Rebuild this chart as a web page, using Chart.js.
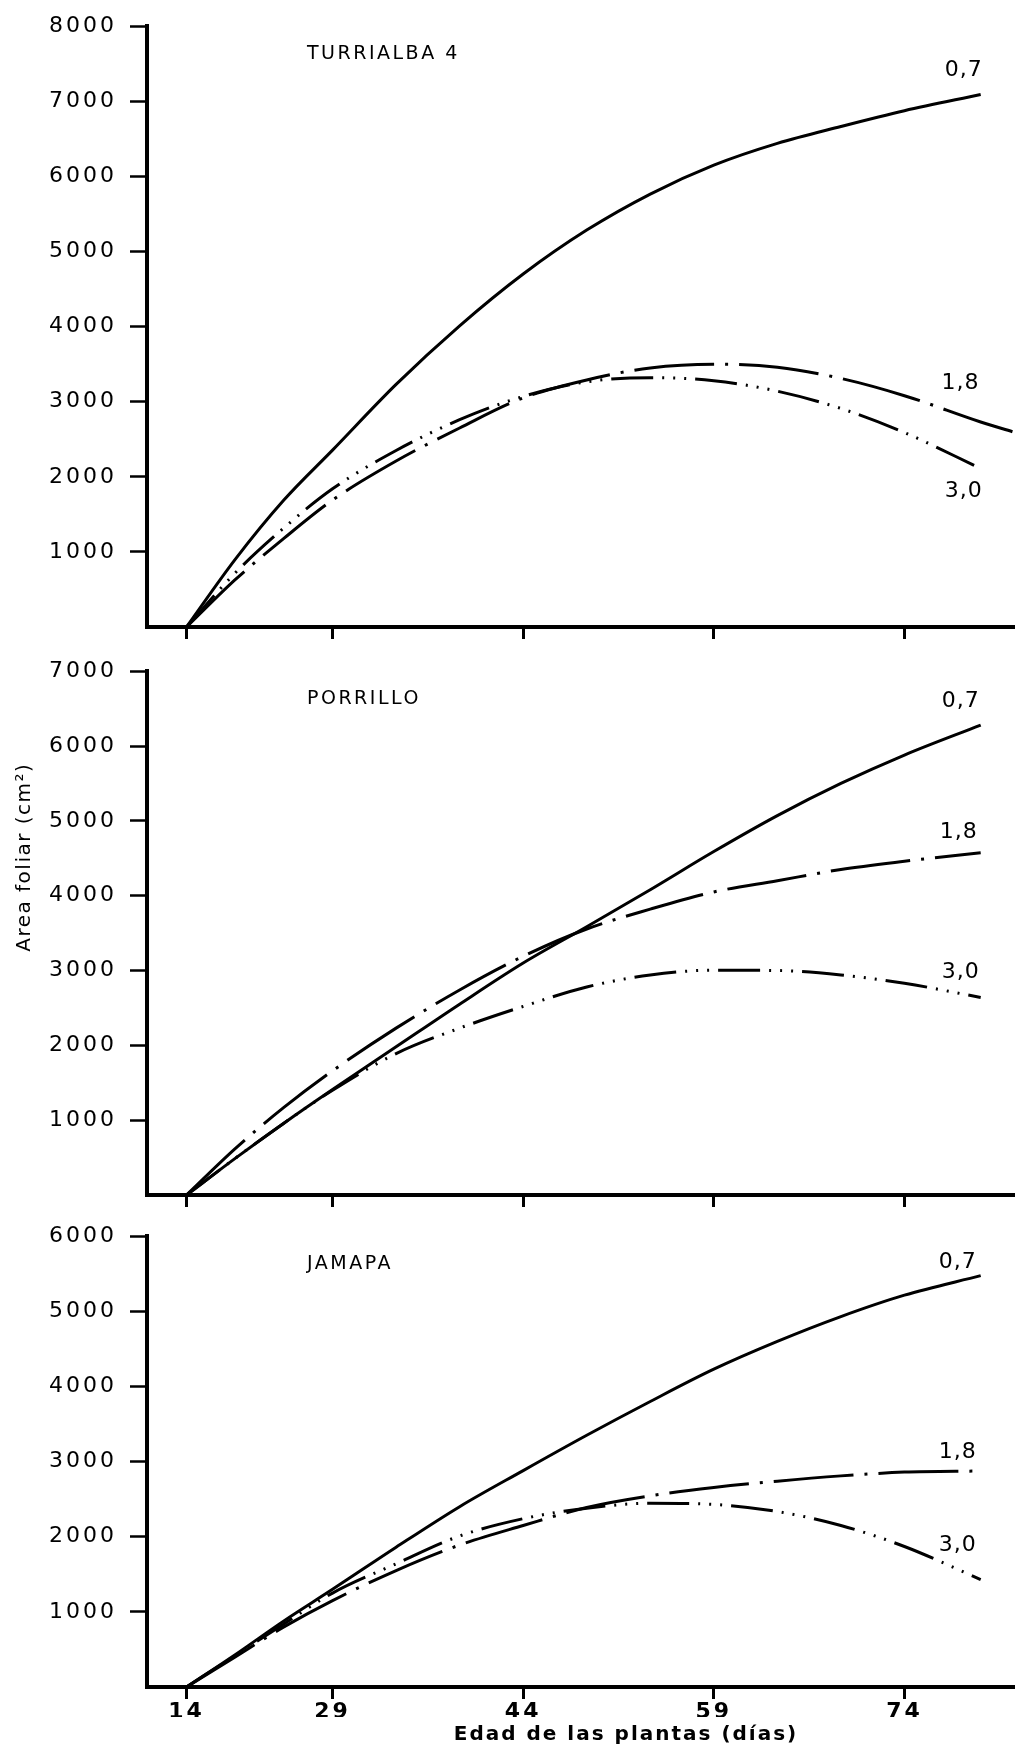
<!DOCTYPE html>
<html>
<head>
<meta charset="utf-8">
<title>Area foliar</title>
<script src="https://cdn.jsdelivr.net/npm/chart.js@4.4.1/dist/chart.umd.min.js"></script>
<style>
  html, body { margin: 0; padding: 0; background: #fff; overflow: hidden; }
  #page { position: relative; width: 1015px; height: 1752px; background: #fff; }
  #page canvas { position: absolute; left: 0; }
</style>
</head>
<body>
<div id="page">
  <canvas id="turrialbaChart" width="1015" height="660" style="top:0px"></canvas>
  <canvas id="porrilloChart" width="1015" height="580" style="top:645px"></canvas>
  <canvas id="jamapaChart" width="1015" height="542" style="top:1210px"></canvas>
</div>
<script>
'use strict';

const days = [14, 19, 24, 29, 34, 39, 44, 49, 54, 59, 64, 69, 74, 80, 82.5];
const tickDays = [14, 29, 44, 59, 74];
const seriesNames = ['0,7', '1,8', '3,0'];
const panelNames = ['TURRIALBA 4', 'PORRILLO', 'JAMAPA'];
const yTitle = 'Area foliar (cm\u00b2)';
const xTitle = 'Edad de las plantas (días)';

// Leaf area (cm2) per plant density
const turrialba07 = [0, 900, 1690, 2355, 3230, 4010, 4700, 5285, 5765, 6150, 6440, 6665, 6875, 7090, null];
const turrialba18 = [0, 630, 1180, 1690, 2210, 2650, 3050, 3290, 3450, 3500, 3460, 3310, 3080, 2730, 2600];
const turrialba30 = [0, 720, 1320, 1840, 2350, 2760, 3070, 3265, 3320, 3280, 3140, 2910, 2590, 2110, null];

const porrillo07 = [0, 490, 960, 1410, 1980, 2550, 3100, 3585, 4080, 4590, 5070, 5500, 5880, 6280, null];
const porrillo18 = [0, 620, 1170, 1660, 2230, 2740, 3190, 3555, 3820, 4050, 4200, 4350, 4460, 4575, null];
const porrillo30 = [0, 490, 960, 1400, 1890, 2230, 2520, 2780, 2940, 3005, 3000, 2940, 2830, 2640, null];

const jamapa07 = [0, 430, 880, 1300, 1860, 2400, 2880, 3350, 3800, 4230, 4600, 4930, 5215, 5475, null];
const jamapa18 = [0, 400, 800, 1150, 1550, 1890, 2150, 2390, 2545, 2655, 2740, 2810, 2860, 2875, null];
const jamapa30 = [0, 420, 840, 1250, 1640, 2010, 2240, 2380, 2445, 2430, 2335, 2150, 1870, 1430, null];

(function () {
  const fontFamily = '"DejaVu Sans", sans-serif';

  // the original drawing squeezes the first 15-day step (14 -> 29)
  const FIRST_STEP = 0.766;
  const axisPos = day => (day < 29 ? 29 - (29 - day) * FIRST_STEP : day);

  const lineStyles = [
    { borderDash: [] },
    { borderDash: [80, 11, 3, 11] },
    { borderDash: [42, 9, 2, 9, 2, 9, 2, 9] }
  ];

  const figureText = {
    id: 'figureText',
    beforeDraw(chart) {
      chart.ctx.letterSpacing = '3px';
    },
    afterDraw(chart, args, opts) {
      const ctx = chart.ctx;
      const area = chart.chartArea;
      ctx.save();
      ctx.fillStyle = '#000';
      ctx.textBaseline = 'middle';

      // variety name
      ctx.font = '19px ' + fontFamily;
      ctx.letterSpacing = '2.5px';
      ctx.textAlign = 'left';
      ctx.fillText(opts.name, area.left + 160, area.top + 28);

      // density labels next to the end of each curve
      ctx.font = '22px ' + fontFamily;
      ctx.letterSpacing = '1px';
      ctx.textAlign = 'center';
      chart.data.datasets.forEach((ds, i) => {
        const pts = chart.getDatasetMeta(i).data.filter(p => !p.skip);
        const end = pts[pts.length - 1];
        const off = opts.labelOffsets[i];
        ctx.fillText(ds.label, end.x + off[0], end.y + off[1]);
      });

      if (opts.yTitle) {
        ctx.save();
        ctx.font = '20px ' + fontFamily;
        ctx.letterSpacing = '1.5px';
        ctx.translate(area.left - 122, area.top + 186);
        ctx.rotate(-Math.PI / 2);
        ctx.fillText(opts.yTitle, 0, 0);
        ctx.restore();
      }
      if (opts.xTitle) {
        ctx.font = 'bold 20px ' + fontFamily;
        ctx.letterSpacing = '2px';
        ctx.fillText(opts.xTitle, area.left + 479, area.bottom + 48);
      }
      ctx.restore();
      ctx.letterSpacing = '0px';
    }
  };

  function makePanel(canvasId, panel) {
    const datasets = panel.series.map((values, i) => ({
      label: seriesNames[i],
      data: days.map((d, j) => ({ x: axisPos(d), y: values[j] })),
      borderColor: '#000',
      borderWidth: 3,
      borderDash: lineStyles[i].borderDash,
      borderCapStyle: 'butt',
      pointRadius: 0,
      fill: false,
      cubicInterpolationMode: 'monotone'
    }));

    new Chart(document.getElementById(canvasId), {
      type: 'line',
      data: { datasets: datasets },
      plugins: [figureText],
      options: {
        responsive: false,
        animation: false,
        layout: { padding: panel.padding },
        plugins: {
          legend: { display: false },
          tooltip: { enabled: false },
          figureText: {
            name: panel.name,
            labelOffsets: panel.labelOffsets,
            yTitle: panel.yTitle,
            xTitle: panel.xTitle
          }
        },
        scales: {
          x: {
            type: 'linear',
            min: 14.4,
            max: 82.7,
            afterBuildTicks: scale => {
              scale.ticks = tickDays.map(d => ({ value: axisPos(d) }));
            },
            afterFit: scale => {
              scale.height = panel.xHeight;
            },
            ticks: {
              display: panel.showXLabels,
              padding: 0,
              color: '#000',
              font: { family: fontFamily, size: 22, weight: 'bold' },
              callback: (value, index) => String(tickDays[index])
            },
            grid: {
              drawOnChartArea: false,
              drawTicks: true,
              tickLength: 12,
              tickWidth: 3,
              tickColor: '#000'
            },
            border: { display: true, color: '#000', width: 4 }
          },
          y: {
            min: 0,
            max: panel.yMax,
            afterBuildTicks: scale => {
              scale.ticks = scale.ticks.filter(t => t.value > 0);
            },
            afterFit: scale => {
              scale.width = 147;
            },
            ticks: {
              stepSize: 1000,
              padding: 13,
              color: '#000',
              font: { family: fontFamily, size: 22 },
              callback: value => String(value)
            },
            grid: {
              drawOnChartArea: false,
              drawTicks: true,
              tickLength: 17,
              tickWidth: 2.5,
              tickColor: '#000'
            },
            border: { display: true, color: '#000', width: 4 }
          }
        }
      }
    });
  }

  // TURRIALBA 4
  makePanel('turrialbaChart', {
    name: panelNames[0],
    series: [turrialba07, turrialba18, turrialba30],
    yMax: 8000,
    padding: { top: 22, bottom: 13, left: 0, right: 0 },
    xHeight: 20,
    showXLabels: false,
    labelOffsets: [[-17, -24], [-52, -48], [-17, 23]]
  });

  // PORRILLO
  makePanel('porrilloChart', {
    name: panelNames[1],
    series: [porrillo07, porrillo18, porrillo30],
    yMax: 7000,
    padding: { top: 22, bottom: 10, left: 0, right: 0 },
    xHeight: 20,
    showXLabels: false,
    yTitle: yTitle,
    labelOffsets: [[-20, -24], [-22, -20], [-20, -25]]
  });

  // JAMAPA
  makePanel('jamapaChart', {
    name: panelNames[2],
    series: [jamapa07, jamapa18, jamapa30],
    yMax: 6000,
    padding: { top: 23, bottom: 35, left: 0, right: 0 },
    xHeight: 30,
    showXLabels: true,
    xTitle: xTitle,
    labelOffsets: [[-23, -13], [-23, -19], [-23, -34]]
  });
})();
</script>
</body>
</html>
